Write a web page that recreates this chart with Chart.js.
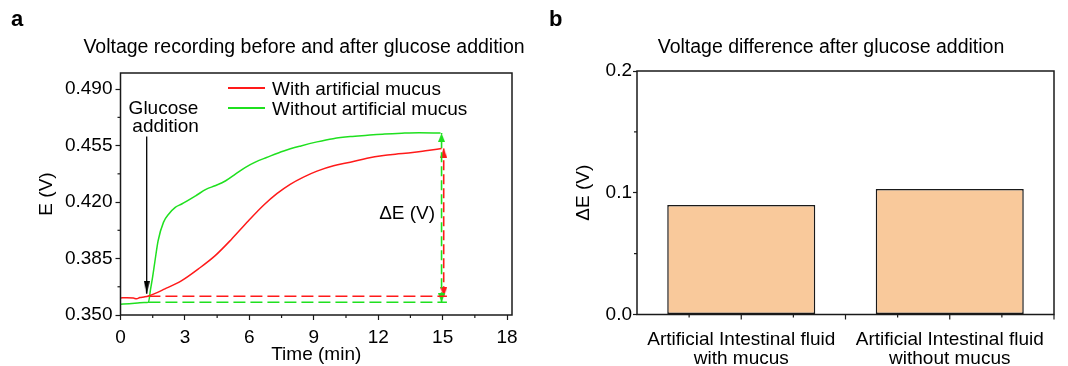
<!DOCTYPE html>
<html><head><meta charset="utf-8">
<script src="https://cdn.jsdelivr.net/npm/chart.js@4.4.0/dist/chart.umd.min.js"></script>
<style>
html,body{margin:0;padding:0;background:#fff;}
body{width:1068px;height:366px;position:relative;overflow:hidden;font-family:"Liberation Sans",Arial,sans-serif;color:#000;}
.abs{position:absolute;white-space:nowrap;}
.letter{font-weight:bold;font-size:22px;line-height:22px;}
.title{font-size:19.5px;line-height:20px;text-align:center;}
.leg{font-size:19px;line-height:20px;}
.leg div{height:20px;position:relative;padding-left:44px;}
.sw{position:absolute;left:0;top:8px;width:37px;height:2px;}
#wa{left:0;top:0;width:540px;height:366px;}
#wb{left:540px;top:0;width:528px;height:366px;}
</style></head><body>
<div class="abs" id="wa"><canvas id="ca" width="540" height="366"></canvas></div>
<div class="abs" id="wb"><canvas id="cb" width="528" height="366"></canvas></div>
<div class="abs letter" style="left:11px;top:8px">a</div>
<div class="abs letter" style="left:549px;top:8px">b</div>
<div class="abs title" style="left:34px;top:36px;width:540px">Voltage recording before and after glucose addition</div>
<div class="abs title" style="left:561px;top:36px;width:540px">Voltage difference after glucose addition</div>
<div class="abs leg" style="left:228px;top:79px">
 <div><span class="sw" style="background:#ff1a1a"></span>With artificial mucus</div>
 <div><span class="sw" style="background:#1fe01f"></span>Without artificial mucus</div>
</div>
<script>
// ---------- Panel a data ----------
const tRed = [0, 0.3, 0.6, 0.75, 0.9, 1.1, 1.3, 2.07, 2.85, 3.63, 4.41, 5.18, 5.96, 6.66, 7.28, 7.9, 8.52, 9.15, 9.92, 10.7, 11.48, 12.25, 12.8, 13.6, 14.3, 14.95];
const eRed = [0.3606,0.3607,0.3605,0.3600,0.3608,0.3612,0.3618,0.3662,0.3713,0.3786,0.3868,0.3971,0.4084,0.4180,0.4252,0.4310,0.4355,0.4392,0.4425,0.4447,0.4472,0.4489,0.4497,0.4507,0.4520,0.4532];
const tGreen = [0, 0.4, 0.8, 1.1, 1.3, 1.4, 1.5, 1.6, 1.75, 2.0, 2.25, 2.55, 2.85, 3.5, 4.0, 4.4, 4.9, 5.35, 5.8, 6.3, 6.8, 7.6, 8.4, 9.15, 9.9, 10.7, 11.5, 12.3, 13.1, 13.9, 14.9];
const eGreen = [0.3567,0.3570,0.3574,0.3577,0.3579,0.3660,0.3740,0.3830,0.3960,0.4074,0.4126,0.4167,0.4188,0.4239,0.4280,0.4301,0.4332,0.4373,0.4414,0.4449,0.4476,0.4517,0.4548,0.4573,0.4593,0.4606,0.4614,0.4622,0.4627,0.4630,0.4628];
const redBaseT = [1.3, 15.2],  redBaseE = [0.3616, 0.3616];
const greenBaseT = [1.3, 15.2], greenBaseE = [0.3579, 0.3579];
const redDeltaT = [15.05, 15.05], redDeltaE = [0.3616, 0.4532];
const greenDeltaT = [14.95, 14.95], greenDeltaE = [0.3579, 0.4628];
const glucoseT = [1.22, 1.22], glucoseE = [0.4606, 0.3631];
const xTicksA = [0, 3, 6, 9, 12, 15, 18];
const yTicksA = [0.350, 0.385, 0.420, 0.455, 0.490];
const xMinorA = [1.5, 4.5, 7.5, 10.5, 13.5, 16.5];
const yMinorA = [0.3675, 0.4025, 0.4375, 0.4725];

// ---------- Panel b data ----------
const categories = [['Artificial Intestinal fluid', 'with mucus'], ['Artificial Intestinal fluid', 'without mucus']];
const deltaE = [0.090, 0.103];
const yTicksB = [0, 0.1, 0.2];
const yMinorB = [0.05, 0.15];
const xMajorB = [0, 0.5, 1, 1.5];
const xMinorB = [-0.25, 0.25, 0.75, 1.25];

const RED = '#ff1a1a', GREEN = '#1fe01f', INK = '#1a1a1a';
const FONT = "'Liberation Sans', Arial, sans-serif";
Chart.defaults.color = '#000';
Chart.defaults.font.family = FONT;

const pts = (xs, ys) => xs.map((x, i) => ({x: x, y: ys[i]}));

function arrowHead(color, dir, w, len) {
  const c = document.createElement('canvas');
  c.width = w; c.height = len * 2;
  const g = c.getContext('2d');
  g.fillStyle = color; g.beginPath();
  if (dir === 'down') { g.moveTo(0, 0); g.lineTo(w, 0); g.lineTo(w / 2, len); }
  else { g.moveTo(0, len * 2); g.lineTo(w, len * 2); g.lineTo(w / 2, len); }
  g.closePath(); g.fill();
  return c;
}

function arrowLine(xs, ys, color, dash, heads, width) {
  return {
    data: pts(xs, ys), borderColor: color, borderWidth: width, borderDash: dash,
    pointRadius: c => heads[c.dataIndex] ? 1 : 0,
    pointStyle: c => heads[c.dataIndex] || 'circle',
    pointBorderWidth: 0, pointBackgroundColor: color, fill: false, tension: 0
  };
}

function decor(cfg) {
  return {
    id: 'decor',
    afterDraw(chart) {
      const {ctx, chartArea: a, scales} = chart;
      ctx.save();
      ctx.strokeStyle = INK;
      ctx.lineWidth = 1.5;
      ctx.strokeRect(a.left, a.top, a.right - a.left, a.bottom - a.top);
      ctx.lineWidth = 1.2;
      const seg = (x1, y1, x2, y2) => { ctx.beginPath(); ctx.moveTo(x1, y1); ctx.lineTo(x2, y2); ctx.stroke(); };
      (cfg.minorX || []).forEach(v => { const p = scales.x.getPixelForValue(v); seg(p, a.bottom, p, a.bottom + 3); });
      (cfg.majorX || []).forEach(v => { const p = scales.x.getPixelForValue(v); seg(p, a.bottom, p, a.bottom + 5); });
      (cfg.minorY || []).forEach(v => { const p = scales.y.getPixelForValue(v); seg(a.left - 3, p, a.left, p); });
      (cfg.texts || []).forEach(t => {
        ctx.fillStyle = '#000';
        ctx.font = '19px ' + FONT;
        ctx.textAlign = t.align; ctx.textBaseline = 'middle';
        ctx.fillText(t.text, scales.x.getPixelForValue(t.x), scales.y.getPixelForValue(t.y));
      });
      ctx.restore();
    }
  };
}

const tickFont = {family: FONT, size: 19};

// ---------- Chart a ----------
new Chart(document.getElementById('ca'), {
  type: 'line',
  data: {
    datasets: [
      {label: 'With artificial mucus', data: pts(tRed, eRed), borderColor: RED, borderWidth: 1.5, pointRadius: 0, cubicInterpolationMode: 'monotone'},
      {label: 'Without artificial mucus', data: pts(tGreen, eGreen), borderColor: GREEN, borderWidth: 1.5, pointRadius: 0, cubicInterpolationMode: 'monotone'},
      arrowLine(redBaseT, redBaseE, RED, [12, 5], [null, null], 1.6),
      arrowLine(greenBaseT, greenBaseE, GREEN, [12, 5], [null, null], 1.6),
      arrowLine(greenDeltaT, greenDeltaE, GREEN, [10, 4], [arrowHead(GREEN, 'down', 7, 9), arrowHead(GREEN, 'up', 7, 9)], 1.6),
      arrowLine(redDeltaT, redDeltaE, RED, [10, 4], [arrowHead(RED, 'down', 7, 9), arrowHead(RED, 'up', 7, 9)], 1.6),
      arrowLine(glucoseT, glucoseE, '#000', [], [null, arrowHead('#000', 'down', 6, 13)], 1.3)
    ]
  },
  options: {
    responsive: false, animation: false, events: [],
    layout: {padding: {left: 0, right: 28, top: 73, bottom: 0}},
    plugins: {legend: {display: false}, tooltip: {enabled: false}},
    scales: {
      x: {
        type: 'linear', min: 0, max: 18.23,
        afterBuildTicks: s => { s.ticks = xTicksA.map(v => ({value: v})); },
        afterFit: s => { s.height = 51; },
        ticks: {font: tickFont, color: '#000', padding: 6, maxRotation: 0, autoSkip: false, callback: v => String(v)},
        grid: {drawOnChartArea: false, drawTicks: true, tickLength: 5, tickColor: INK, tickWidth: 1.2},
        border: {display: false},
        title: {display: true, text: 'Time (min)', font: tickFont, color: '#000', padding: {top: 0, bottom: 0}}
      },
      y: {
        type: 'linear', min: 0.350, max: 0.500,
        afterBuildTicks: s => { s.ticks = yTicksA.map(v => ({value: v})); },
        afterFit: s => { s.width = 120.5; },
        ticks: {font: tickFont, color: '#000', padding: 3, autoSkip: false, callback: v => v.toFixed(3)},
        grid: {drawOnChartArea: false, drawTicks: true, tickLength: 5, tickColor: INK, tickWidth: 1.2},
        border: {display: false},
        title: {display: true, text: 'E (V)', font: tickFont, color: '#000', padding: {top: 35.6, bottom: 0}}
      }
    }
  },
  plugins: [decor({
    minorX: xMinorA, minorY: yMinorA,
    texts: [
      {text: 'Glucose', x: 2.0, y: 0.4777, align: 'center'},
      {text: 'addition', x: 2.1, y: 0.4666, align: 'center'},
      {text: 'ΔE (V)', x: 14.65, y: 0.4125, align: 'right'}
    ]
  })]
});

// ---------- Chart b ----------
new Chart(document.getElementById('cb'), {
  type: 'bar',
  data: {
    labels: categories,
    datasets: [{data: deltaE, backgroundColor: '#f9c99b', borderColor: INK, borderWidth: 1.5, borderSkipped: false, categoryPercentage: 1, barPercentage: 0.71}]
  },
  options: {
    responsive: false, animation: false, events: [],
    layout: {padding: {left: 0, right: 14, top: 71, bottom: 0}},
    plugins: {legend: {display: false}, tooltip: {enabled: false}},
    scales: {
      x: {
        type: 'category',
        afterFit: s => { s.height = 51.5; },
        ticks: {font: {family: FONT, size: 19, lineHeight: 1.04}, color: '#000', padding: 15, maxRotation: 0, autoSkip: false},
        grid: {display: true, drawOnChartArea: false, drawTicks: false},
        border: {display: false}
      },
      y: {
        type: 'linear', min: 0, max: 0.2,
        afterBuildTicks: s => { s.ticks = yTicksB.map(v => ({value: v})); },
        afterFit: s => { s.width = 97; },
        ticks: {font: tickFont, color: '#000', padding: 1, autoSkip: false, callback: v => v.toFixed(1)},
        grid: {drawOnChartArea: false, drawTicks: true, tickLength: 4, tickColor: INK, tickWidth: 1.2},
        border: {display: false},
        title: {display: true, text: 'ΔE (V)', font: tickFont, color: '#000', padding: {top: 32.6, bottom: 0}}
      }
    }
  },
  plugins: [decor({minorX: xMinorB, majorX: xMajorB, minorY: yMinorB})]
});
</script>
</body></html>
